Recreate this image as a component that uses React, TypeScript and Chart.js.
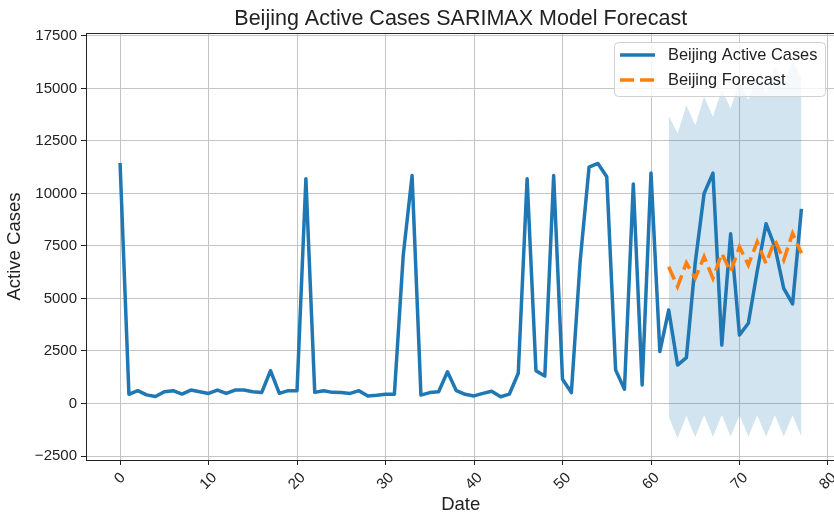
import React, { useEffect, useRef } from "react";
import { Chart, registerables } from "chart.js";

Chart.register(...registerables);

// ---- data ----
const activeCases = [
  11450, 440, 610, 410, 330, 560, 610, 450, 640, 560,
  480, 640, 480, 640, 640, 560, 520, 1560, 480, 610,
  610, 10700, 530, 610, 530, 520, 480, 610, 360, 390,
  440, 440, 7050, 10850, 400, 520, 560, 1510, 610, 440,
  360, 480, 580, 320, 450, 1440, 10700, 1560, 1310, 10850,
  1150, 520, 6800, 11250, 11430, 10800, 1600, 680, 10450, 880,
  10980, 2470, 4450, 1830, 2180, 6700, 10000, 10970, 2780, 8080,
  3260, 3820, 6300, 8560, 7460, 5480, 4740, 9270,
];
const forecastStart = 62;
const forecastValues = [
  6510, 5560, 6700, 5960, 6990, 5960, 7150, 6270,
  7460, 6590, 7700, 6670, 7780, 6830, 8100, 7150,
];
const upperCI = [
  13700, 12860, 14200, 13250, 14600, 13650, 14950, 14050,
  15350, 14450, 15700, 14800, 16050, 15150, 16350, 15500,
];
const lowerCI = [
  -630, -1650, -590, -1610, -550, -1580, -550, -1570,
  -550, -1570, -560, -1570, -560, -1570, -560, -1580,
];
const xTicks = [0, 10, 20, 30, 40, 50, 60, 70, 80];
const yTicks = [-2500, 0, 2500, 5000, 7500, 10000, 12500, 15000, 17500];

const titleText = "Beijing Active Cases SARIMAX Model Forecast";
const xLabel = "Date";
const yLabel = "Active Cases";
const activeLabel = "Beijing Active Cases";
const forecastLabel = "Beijing Forecast";

const FONT = "'Liberation Sans', Arial, Helvetica, sans-serif";
const BLUE = "#1f77b4";
const ORANGE = "#ff7f0e";

const fmt = (v: number) => String(v).replace("-", "\u2212");

export default function App() {
  const ref = useRef<HTMLCanvasElement | null>(null);

  useEffect(() => {
    const canvas = ref.current;
    if (!canvas) return;

    const activePts = activeCases.map((v, i) => ({ x: i, y: v }));
    const forecastPts = forecastValues.map((v, i) => ({ x: forecastStart + i, y: v }));
    const upperPts = upperCI.map((v, i) => ({ x: forecastStart + i, y: v }));
    const lowerPts = lowerCI.map((v, i) => ({ x: forecastStart + i, y: v }));

    const decor = {
      id: "decor",
      afterDraw(chart: any) {
        const ctx = chart.ctx as CanvasRenderingContext2D;
        const ca = chart.chartArea;
        const xs = chart.scales.x;
        ctx.save();
        // frame (spines)
        ctx.strokeStyle = "#222";
        ctx.lineWidth = 1;
        ctx.strokeRect(Math.round(ca.left) + 0.5, Math.round(ca.top) + 0.5, ca.right - ca.left, Math.round(ca.bottom - ca.top));

        // x tick labels rotated 45, centered
        ctx.fillStyle = "#222";
        ctx.font = `15px ${FONT}`;
        ctx.textAlign = "center";
        ctx.textBaseline = "middle";
        for (const v of xTicks) {
          const px = xs.getPixelForValue(v);
          const t = fmt(v);
          const w = ctx.measureText(t).width;
          const h = 15;
          const cy = ca.bottom + 10 + (w + h) / (2 * Math.SQRT2);
          ctx.save();
          ctx.translate(px, cy);
          ctx.rotate(-Math.PI / 4);
          ctx.fillText(t, 0, 0);
          ctx.restore();
        }

        // axis labels
        ctx.font = `18.5px ${FONT}`;
        ctx.fillText(xLabel, (ca.left + ca.right) / 2, 505);
        ctx.save();
        ctx.translate(15, (ca.top + ca.bottom) / 2);
        ctx.rotate(-Math.PI / 2);
        ctx.fillText(yLabel, 0, 0);
        ctx.restore();

        // title
        ctx.font = `21.5px ${FONT}`;
        ctx.textBaseline = "alphabetic";
        ctx.fillText(titleText, (ca.left + ca.right) / 2, 24.5);

        // legend
        const lx = 614.5, ly = 42.5, lw = 211, lh = 54;
        ctx.beginPath();
        (ctx as any).roundRect(lx, ly, lw, lh, 4);
        ctx.fillStyle = "rgba(255,255,255,0.8)";
        ctx.fill();
        ctx.strokeStyle = "#d0d0d0";
        ctx.lineWidth = 1;
        ctx.stroke();

        ctx.lineWidth = 3.5;
        ctx.lineCap = "butt";
        ctx.strokeStyle = BLUE;
        ctx.beginPath();
        ctx.moveTo(620, 55);
        ctx.lineTo(655, 55);
        ctx.stroke();
        ctx.strokeStyle = ORANGE;
        ctx.setLineDash([14, 6]);
        ctx.beginPath();
        ctx.moveTo(620, 80);
        ctx.lineTo(655, 80);
        ctx.stroke();
        ctx.setLineDash([]);

        ctx.fillStyle = "#222";
        ctx.font = `16.4px ${FONT}`;
        ctx.textAlign = "left";
        ctx.textBaseline = "middle";
        ctx.fillText(activeLabel, 668, 55);
        ctx.fillText(forecastLabel, 668, 80);
        ctx.restore();
      },
    };

    const gridCommon = {
      color: "#c4c4c4",
      lineWidth: 1,
      tickColor: "#222",
      tickLength: 5,
      drawTicks: true,
    };

    const chart = new Chart(canvas, {
      type: "line",
      data: {
        datasets: [
          {
            label: forecastLabel,
            data: forecastPts,
            borderColor: ORANGE,
            borderWidth: 3.5,
            borderDash: [14, 6],
            pointRadius: 0,
            fill: false,
            tension: 0,
          },
          {
            label: activeLabel,
            data: activePts,
            borderColor: BLUE,
            borderWidth: 3.5,
            pointRadius: 0,
            fill: false,
            tension: 0,
            borderJoinStyle: "round",
          },
          {
            label: "upper",
            data: upperPts,
            borderColor: "rgba(0,0,0,0)",
            borderWidth: 0,
            backgroundColor: "rgba(31,119,180,0.2)",
            pointRadius: 0,
            fill: "+1",
            tension: 0,
          },
          {
            label: "lower",
            data: lowerPts,
            borderColor: "rgba(0,0,0,0)",
            borderWidth: 0,
            pointRadius: 0,
            fill: false,
            tension: 0,
          },
        ],
      },
      options: {
        animation: false,
        responsive: false,
        maintainAspectRatio: false,
        layout: { padding: { left: 0, top: 33, right: 4.5, bottom: 0 } },
        plugins: {
          legend: { display: false },
          title: { display: false },
          tooltip: { enabled: false },
        },
        scales: {
          x: {
            type: "linear",
            min: -3.85,
            max: 80.85,
            afterBuildTicks: (s: any) => {
              s.ticks = xTicks.map((v) => ({ value: v }));
            },
            afterFit: (s: any) => {
              s.height = 57;
            },
            grid: gridCommon,
            border: { display: false },
            ticks: { display: false },
          },
          y: {
            type: "linear",
            min: -2690,
            max: 17640,
            afterBuildTicks: (s: any) => {
              s.ticks = yTicks.map((v) => ({ value: v }));
            },
            afterFit: (s: any) => {
              s.width = 86;
            },
            grid: gridCommon,
            border: { display: false },
            ticks: {
              font: { family: FONT, size: 15 },
              color: "#222",
              padding: 4,
              callback: (v: any) => fmt(Number(v)),
            },
          },
        },
      },
      plugins: [decor],
    } as any);

    return () => chart.destroy();
  }, []);

  return (
    <div style={{ position: "absolute", left: 0, top: 0, width: 834, height: 517, overflow: "hidden", background: "#fff" }}>
      <canvas ref={ref} width={840} height={517} style={{ width: 840, height: 517, display: "block" }} />
    </div>
  );
}
